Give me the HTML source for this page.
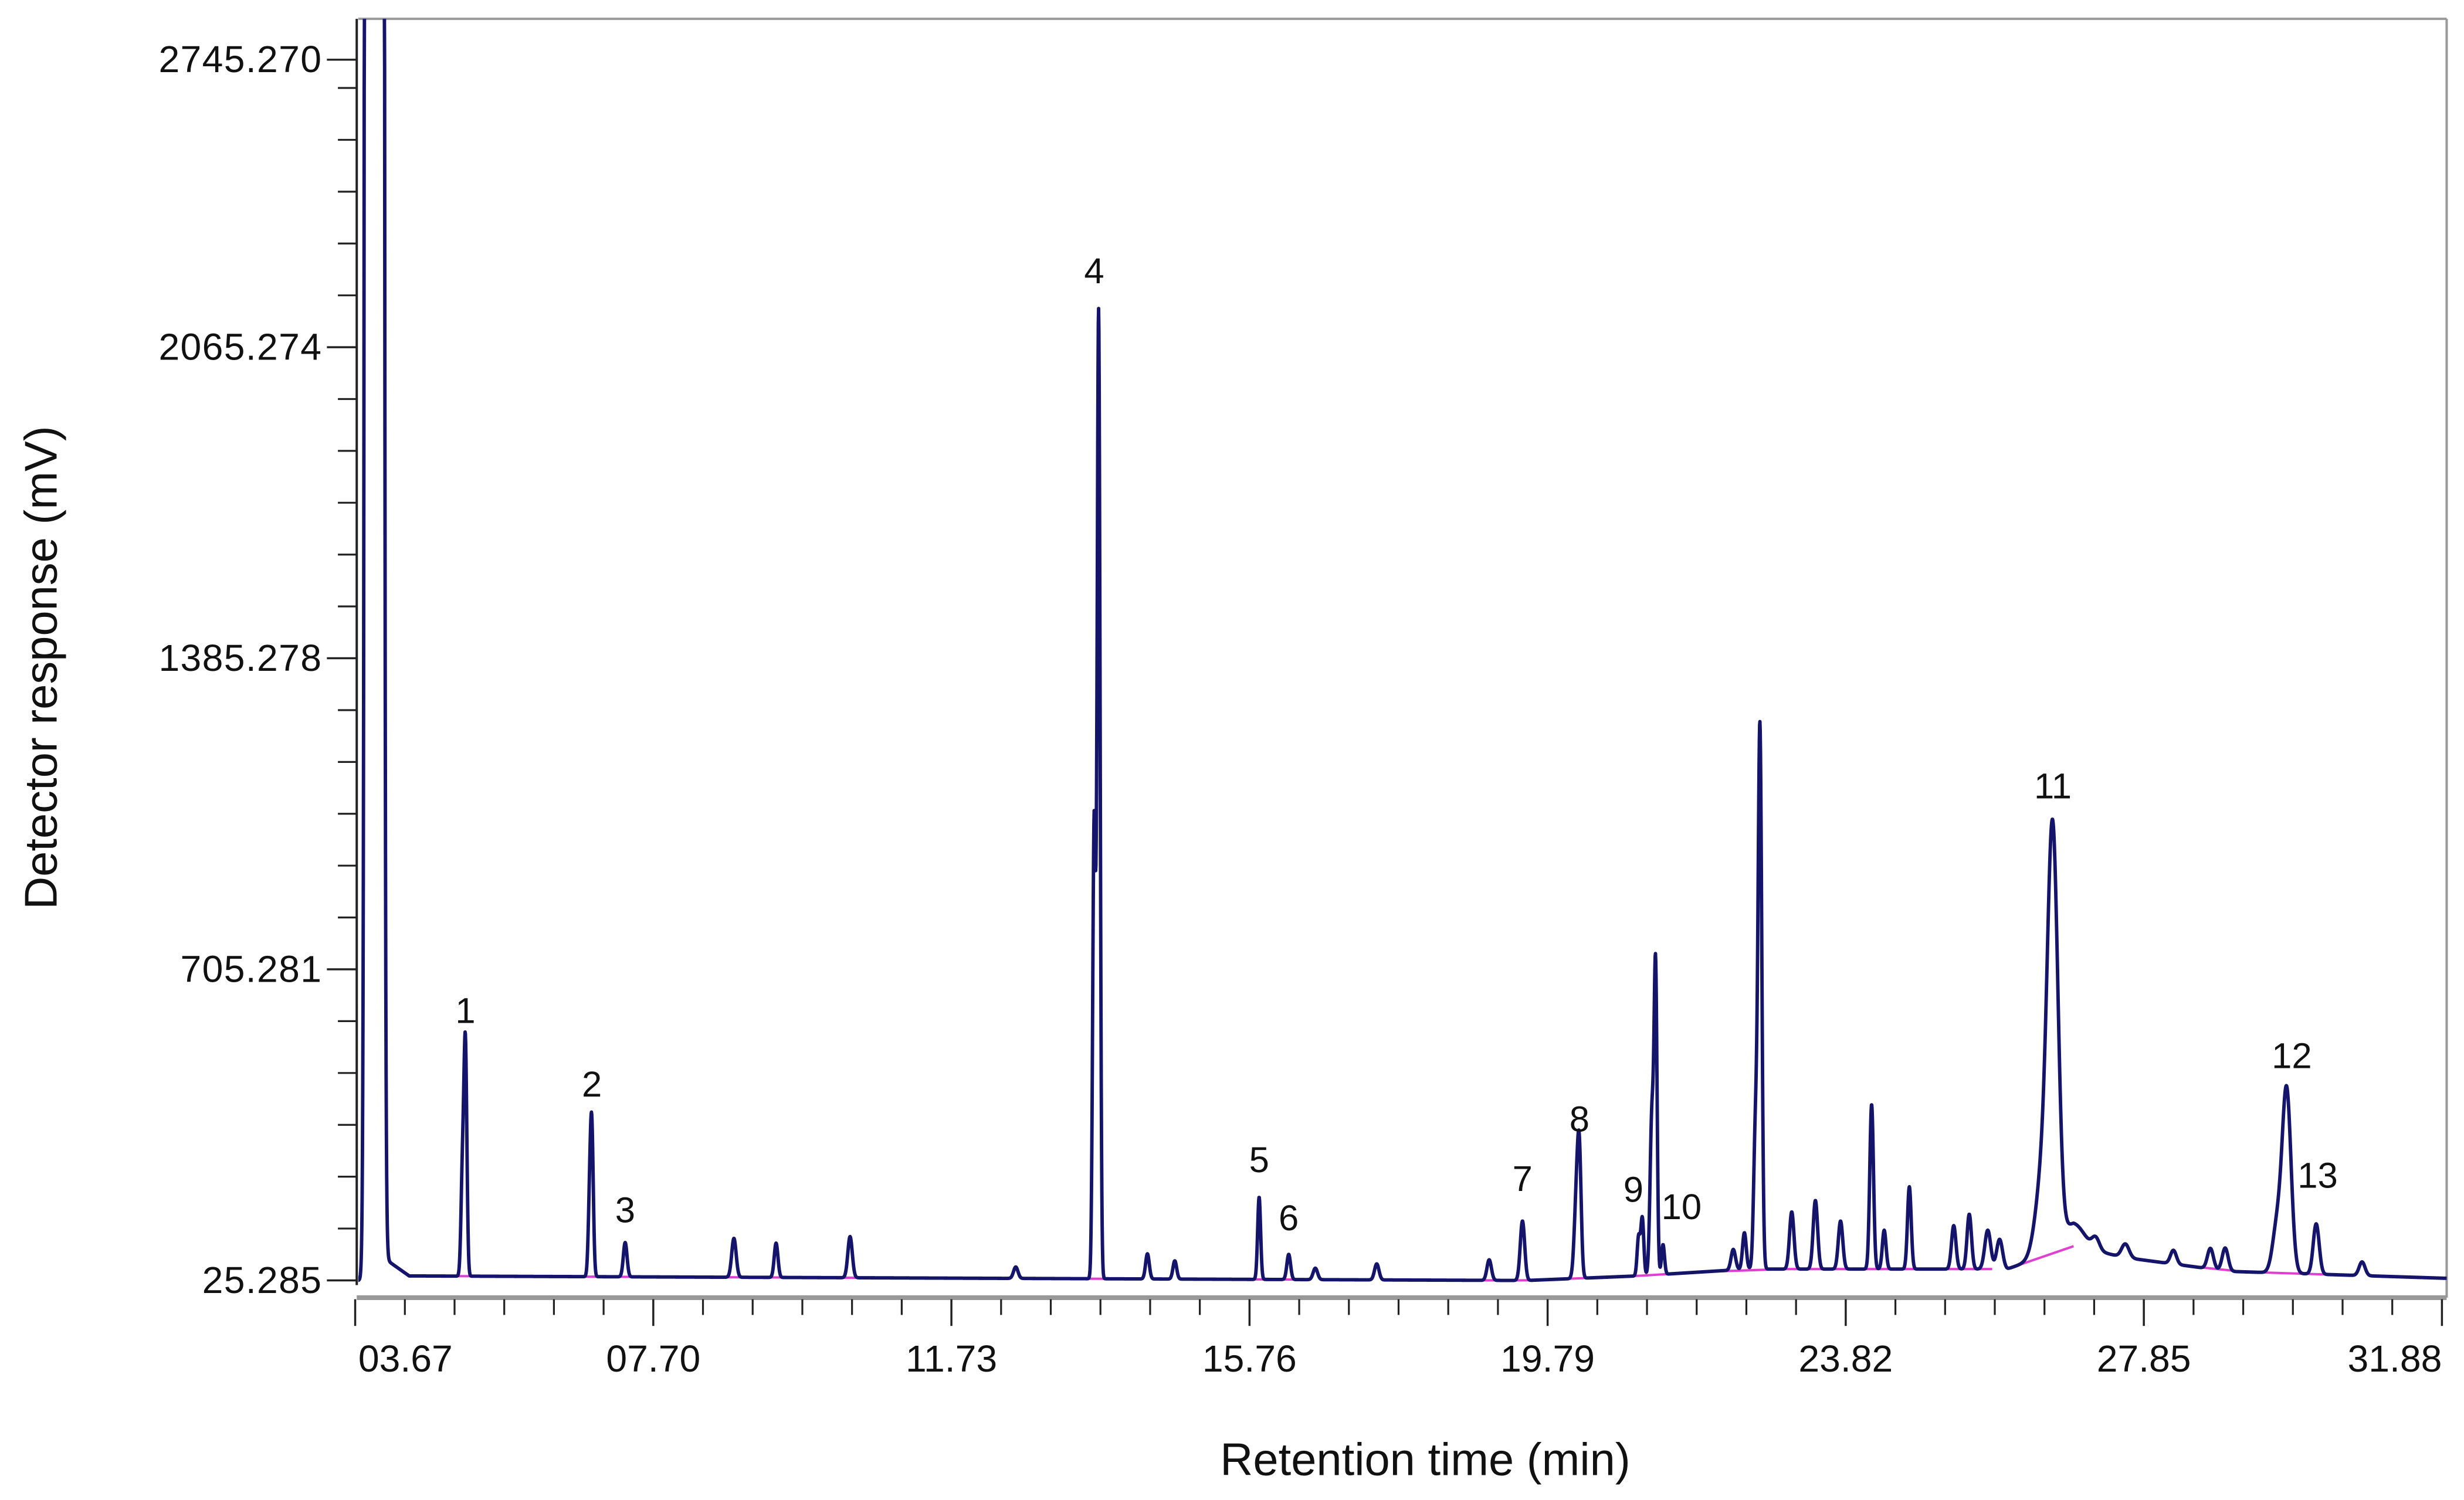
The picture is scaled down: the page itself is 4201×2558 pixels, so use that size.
<!DOCTYPE html>
<html><head><meta charset="utf-8"><style>
html,body{margin:0;padding:0;background:#fff;}
svg{display:block;}
text{font-family:"Liberation Sans",sans-serif;}
</style></head><body>
<svg id="chart" xmlns="http://www.w3.org/2000/svg" width="4201" height="2558" viewBox="0 0 1568 954.8">
<defs><clipPath id="pc"><rect x="228" y="12" width="1329" height="813"/></clipPath></defs>
<g id="frame">
<line x1="228" y1="12" x2="1557" y2="12" stroke="#999" stroke-width="1.5"/>
<line x1="1557" y1="12" x2="1557" y2="826" stroke="#999" stroke-width="1.5"/>
<line x1="227" y1="826" x2="1557" y2="826" stroke="#999" stroke-width="3"/>
<line x1="227" y1="12" x2="227" y2="818" stroke="#222" stroke-width="1.5"/>
</g>
<g id="yaxis"></g>
<g id="xaxis"></g>
<g id="plot" clip-path="url(#pc)"></g>
<g id="labels"></g>
<text transform="translate(36,425) rotate(-90)" text-anchor="middle" font-size="29" fill="#111">Detector response (mV)</text>
<text x="907" y="939" text-anchor="middle" font-size="29" fill="#111">Retention time (min)</text>
</svg>
<script>
const yTickValues=[25.285,705.281,1385.278,2065.274,2745.270];
const yTickLabels=["25.285","705.281","1385.278","2065.274","2745.270"];
const xTickValues=[3.67,7.70,11.73,15.76,19.79,23.82,27.85,31.88];
const xTickLabels=["03.67","07.70","11.73","15.76","19.79","23.82","27.85","31.88"];
// peaks: retention time, height above baseline (mV), sigma (min)
const peakTimes=[3.93,5.12,5.16,6.84,6.87,7.32,8.79,9.36,10.36,12.6,13.66,13.72,14.38,14.75,15.89,16.29,16.65,17.48,19.0,19.45,20.18,20.22,21.02,21.07,21.20,21.25,21.35,22.3,22.45,22.60,22.66,23.09,23.41,23.75,24.17,24.34,24.68,25.28,25.49,25.74,25.9,26.50,26.62,26.9,27.2,27.6,28.25,28.75,28.95,29.65,29.78,30.18,30.8];
const peakHeights=[1000000,220,500,150,300,75,85,75,90,25,1000,2110,55,40,180,55,25,35,45,130,170,240,85,125,350,650,65,45,80,300,1180,125,150,105,360,85,180,95,120,85,65,200,840,50,25,30,30,45,50,100,400,110,30];
const peakSigmas=[0.04,0.02,0.02,0.02,0.02,0.025,0.03,0.025,0.03,0.03,0.02,0.02,0.025,0.025,0.02,0.025,0.03,0.03,0.03,0.03,0.03,0.025,0.02,0.02,0.025,0.02,0.02,0.03,0.025,0.025,0.025,0.03,0.03,0.03,0.025,0.025,0.025,0.03,0.03,0.04,0.04,0.1,0.07,0.15,0.05,0.05,0.04,0.04,0.04,0.06,0.06,0.04,0.04];
// baseline drift
const baseTimes=[3.6,3.99,4.05,4.4,19.5,21.0,22.5,26.0,26.9,27.6,29.0,31.9];
const baseValues=[25,25,75,35,25,35,50,50,100,75,45,30];
// integration baselines (pink): start time, end time
const intStart=[5.0,6.7,7.2,8.6,9.2,10.2,13.5,15.7,16.1,18.8,19.3,20.0,20.9,21.1,21.9,23.0,26.0,28.5,29.4];
const intEnd=[5.3,7.0,7.45,8.9,9.45,10.5,13.9,16.0,16.4,19.2,19.6,20.4,21.15,21.5,23.0,25.8,26.9,29.2,30.4];
const labelText=["1","2","3","4","5","6","7","8","9","10","11","12","13"];
const labelTimes=[5.16,6.87,7.32,13.66,15.89,16.29,19.45,20.22,20.95,21.6,26.62,29.85,30.2];
const labelValues=[588,427,152,2205,262,135,221,351,197,159,1079,489,228];

const NS="http://www.w3.org/2000/svg";
const X=t=>226+(t-3.67)*(1554-226)/(31.88-3.67);
const Y=v=>815-(v-25.285)*198/680;
function base(t){for(let i=0;i<baseTimes.length-1;i++){if(t<=baseTimes[i+1]){const f=(t-baseTimes[i])/(baseTimes[i+1]-baseTimes[i]);return baseValues[i]+f*(baseValues[i+1]-baseValues[i]);}}return baseValues[baseValues.length-1];}
function sig(t){let v=base(t);for(let i=0;i<peakTimes.length;i++){const d=(t-peakTimes[i])/peakSigmas[i];if(Math.abs(d)<7)v+=peakHeights[i]*Math.exp(-0.5*d*d);}return v;}
function mk(tag,attrs,parent){const e=document.createElementNS(NS,tag);for(const k in attrs)e.setAttribute(k,attrs[k]);parent.appendChild(e);return e;}

const ya=document.getElementById('yaxis');
const step=Math.abs(Y(yTickValues[1])-Y(yTickValues[0]))/6;
for(let i=0;i<yTickValues.length;i++){
 const y=Math.max(Y(yTickValues[i]),38);
 const tk=mk('line',{x1:208,x2:227,y1:y,y2:y,stroke:'#222','stroke-width':1.3},ya);
 
 
 const tx=mk('text',{x:205,y:y+8,'text-anchor':'end','font-size':24,fill:'#111','letter-spacing':'0.5'},ya);
 tx.textContent=yTickLabels[i];
 
 
 if(i<yTickValues.length-1){for(let j=1;j<6;j++){const yy=Y(yTickValues[i])-step*j;if(yy<40)continue;
  const m=mk('line',{x1:215,x2:227,y1:yy,y2:yy,stroke:'#222','stroke-width':1.2},ya);
  
  }}
}
const xa=document.getElementById('xaxis');
for(let i=0;i<xTickValues.length;i++){
 const x=X(xTickValues[i]);
 const tk=mk('line',{x1:x,x2:x,y1:827,y2:844,stroke:'#222','stroke-width':1.3},xa);
 
 
 const tx=mk('text',{x:x+(i==0?2:0),y:873,'text-anchor':i==0?'start':(i==xTickValues.length-1?'end':'middle'),'font-size':24,fill:'#111'},xa);
 tx.textContent=xTickLabels[i];
 
 
 if(i<xTickValues.length-1){const s=(X(xTickValues[i+1])-x)/6;for(let j=1;j<6;j++){
  const m=mk('line',{x1:x+s*j,x2:x+s*j,y1:827,y2:837,stroke:'#222','stroke-width':1.2},xa);
  
  }}
}
const pl=document.getElementById('plot');
for(let i=0;i<intStart.length;i++){
 const l=mk('line',{x1:X(intStart[i]),x2:X(intEnd[i]),y1:Y(base(intStart[i])),y2:Y(base(intEnd[i])),stroke:'#e040d0','stroke-width':1.5},pl);
 
 
}
let d='';
for(let k=0;k<=7100;k++){const t=3.6+k*0.004;d+=(d?'L':'M')+X(t).toFixed(2)+','+Math.max(Y(sig(t)),0).toFixed(2);}
const p=mk('path',{d:d,fill:'none',stroke:'#14146a','stroke-width':2.2,'stroke-linejoin':'round'},pl);


const lb=document.getElementById('labels');
for(let i=0;i<labelText.length;i++){
 const t=mk('text',{x:X(labelTimes[i]),y:Y(labelValues[i]),'text-anchor':'middle','font-size':23,fill:'#111'},lb);
 t.textContent=labelText[i];
 
 
}
</script>
</body></html>
